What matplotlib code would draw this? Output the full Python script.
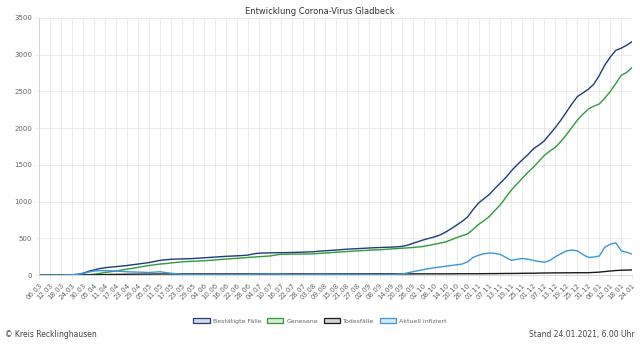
import numpy as np
import pandas as pd
import matplotlib
matplotlib.use('Agg')
import matplotlib.pyplot as plt
from matplotlib.patches import Patch


# daily series sampled every third day, 06.03.2020 .. 24.01.2021
start_date = '2020-03-06'
end_date = '2021-01-24'
step_days = 3

confirmed = [
    0, 0, 0, 1, 2, 3, 5, 10, 25, 50, 70, 88, 100, 108, 115, 122, 130, 140,
    150, 160, 170, 185, 200, 208, 215, 218, 220, 222, 225, 230, 235, 240,
    245, 250, 255, 258, 262, 266, 272, 288, 298, 300, 302, 304, 305, 306,
    307, 310, 312, 315, 318, 325, 330, 335, 340, 346, 352, 356, 360, 364,
    368, 372, 375, 378, 380, 384, 390, 405, 430, 455, 480, 500, 520, 545,
    585, 630, 680, 730, 790, 890, 980, 1040, 1100, 1180, 1255, 1330, 1420,
    1500, 1570, 1640, 1720, 1770, 1830, 1920, 2010, 2110, 2220, 2330, 2430,
    2480, 2530, 2600, 2720, 2860, 2970, 3060, 3090, 3130, 3180,
]
recovered = [
    0, 0, 0, 0, 0, 0, 0, 1, 2, 5, 10, 22, 35, 45, 55, 68, 80, 92, 105, 118,
    130, 140, 150, 155, 165, 172, 180, 184, 188, 192, 195, 200, 205, 212,
    218, 223, 228, 234, 240, 245, 250, 255, 260, 272, 283, 284, 285, 286,
    287, 287, 290, 295, 300, 305, 310, 315, 320, 325, 330, 334, 338, 342,
    345, 350, 355, 360, 365, 370, 375, 382, 390, 405, 420, 435, 450, 480,
    510, 535, 560, 620, 690, 740, 800, 880, 960, 1060, 1160, 1240, 1320,
    1400, 1470, 1550, 1630, 1690, 1740, 1820, 1910, 2010, 2110, 2190, 2260,
    2300, 2330, 2410, 2500, 2610, 2720, 2760, 2830,
]
deaths = [
    0, 0, 0, 0, 0, 0, 0, 0, 1, 2, 3, 5, 6, 8, 9, 10, 11, 12, 12, 13, 13,
    14, 14, 15, 15, 15, 15, 15, 15, 15, 15, 15, 15, 15, 15, 15, 15, 15, 15,
    15, 15, 15, 15, 15, 15, 15, 15, 15, 15, 15, 15, 15, 15, 16, 16, 16, 16,
    16, 16, 16, 16, 16, 16, 16, 16, 16, 16, 16, 16, 17, 17, 17, 17, 17, 17,
    17, 18, 18, 18, 18, 18, 19, 20, 20, 21, 22, 22, 23, 24, 25, 25, 27, 28,
    29, 30, 30, 31, 31, 32, 32, 32, 36, 40, 48, 55, 62, 66, 68, 70,
]
active = [
    0, 0, 0, 1, 2, 3, 5, 9, 20, 40, 55, 60, 60, 58, 55, 50, 45, 42, 40, 38,
    35, 40, 45, 35, 25, 18, 10, 8, 5, 5, 5, 5, 5, 6, 6, 5, 5, 4, 6, 10, 12,
    14, 15, 15, 12, 8, 5, 5, 6, 8, 9, 10, 10, 10, 10, 10, 10, 8, 8, 8, 8, 6,
    5, 6, 8, 10, 15, 28, 45, 60, 75, 88, 100, 110, 120, 130, 140, 150, 180,
    240, 270, 290, 300, 295, 280, 240, 200, 215, 225, 215, 200, 185, 175,
    200, 250, 290, 330, 340, 330, 280, 240, 245, 260, 380, 420, 440, 330,
    310, 285,
]

series_names = ['Bestätigte Fälle', 'Genesene', 'Todesfälle', 'Aktuell infiziert']
line_colors = ['#1f3c7a', '#2f9a3c', '#1a1a1a', '#3b97d8']
box_colors = ['#d7dbe6', '#d6ecd8', '#d4d4d4', '#d8eaf7']

dates = pd.date_range(start_date, end_date)
tick_dates = dates[::6]
tick_labels = [d.strftime('%d.%m') for d in tick_dates]

days = np.arange(0, len(dates), step_days)

fig = plt.figure(figsize=(6.4, 3.46), dpi=100)
ax = fig.add_axes([0.061, 0.205, 0.927, 0.743])

grid_color = '#e8e8e8'
text_color = '#666666'

for values, color in zip([confirmed, recovered, deaths, active], line_colors):
    ax.plot(days, values, color=color, lw=1.0, solid_joinstyle='round')

ax.set_xlim(0, len(dates) - 1)
ax.set_ylim(0, 3500)
ax.set_yticks(np.arange(0, 3501, 500))
ax.set_xticks(np.arange(0, len(dates), 6))
ax.set_xticklabels(tick_labels, rotation=45, ha='right', rotation_mode='anchor')
ax.tick_params(axis='both', labelsize=5, colors=text_color, length=3,
               width=0.6, color=grid_color, pad=2)
ax.grid(True, color=grid_color, lw=0.6)
ax.set_axisbelow(True)
for side in ['top', 'right']:
    ax.spines[side].set_visible(False)
for side in ['left', 'bottom']:
    ax.spines[side].set_color('#d0d0d0')
    ax.spines[side].set_linewidth(0.6)

fig.text(0.5, 0.968, 'Entwicklung Corona-Virus Gladbeck', ha='center',
         va='center', fontsize=6, color='#333333')

handles = [Patch(facecolor=fc, edgecolor=ec, lw=0.9)
           for fc, ec in zip(box_colors, line_colors)]
fig.legend(handles, series_names, loc='center', bbox_to_anchor=(0.5, 0.072),
           ncol=4, frameon=False, fontsize=4.5, handlelength=2.6,
           handleheight=0.8, columnspacing=0.9, handletextpad=0.5,
           labelcolor=text_color)

fig.text(0.008, 0.032, '© Kreis Recklinghausen', ha='left', va='center',
         fontsize=5.5, color='#444444')
fig.text(0.992, 0.032, 'Stand 24.01.2021, 6.00 Uhr', ha='right', va='center',
         fontsize=5.5, color='#444444')

fig.savefig('out.png', dpi=100)
